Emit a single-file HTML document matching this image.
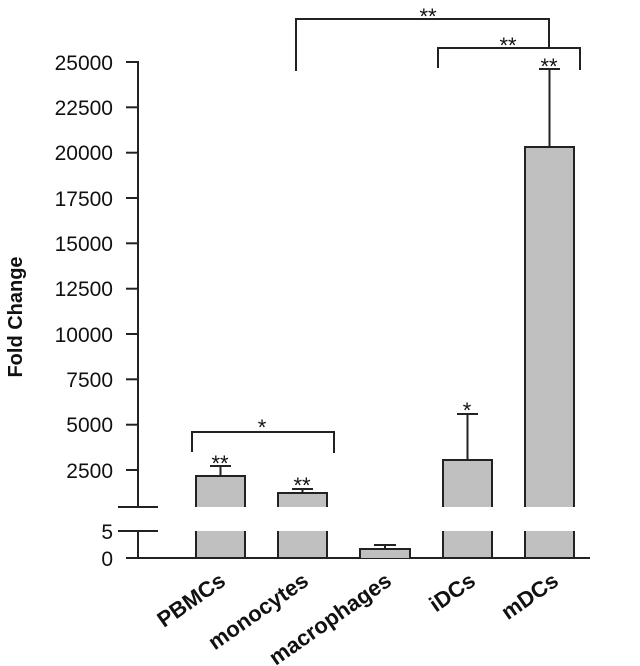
<!DOCTYPE html>
<html><head><meta charset="utf-8"><style>body{margin:0;background:#fff}svg{display:block}</style></head>
<body>
<svg width="640" height="666" xmlns="http://www.w3.org/2000/svg" font-family="'Liberation Sans', Arial, sans-serif">
<g stroke="#222" stroke-width="2" fill="none">
<line x1="138" y1="61" x2="138" y2="507"/>
<line x1="138" y1="531" x2="138" y2="558"/>
<line x1="118" y1="507" x2="158" y2="507"/>
<line x1="118" y1="531" x2="158" y2="531"/>
<line x1="126" y1="558" x2="590" y2="558"/>
<g>
<line x1="126" y1="62" x2="138" y2="62"/>
<line x1="126" y1="107.3" x2="138" y2="107.3"/>
<line x1="126" y1="152.7" x2="138" y2="152.7"/>
<line x1="126" y1="198" x2="138" y2="198"/>
<line x1="126" y1="243.3" x2="138" y2="243.3"/>
<line x1="126" y1="288.7" x2="138" y2="288.7"/>
<line x1="126" y1="334" x2="138" y2="334"/>
<line x1="126" y1="379.3" x2="138" y2="379.3"/>
<line x1="126" y1="424.7" x2="138" y2="424.7"/>
<line x1="126" y1="470" x2="138" y2="470"/>
</g>
</g>
<g font-size="21" fill="#111" text-anchor="end">
<text x="113" y="70">25000</text>
<text x="113" y="115">22500</text>
<text x="113" y="160">20000</text>
<text x="113" y="206">17500</text>
<text x="113" y="251">15000</text>
<text x="113" y="296">12500</text>
<text x="113" y="342">10000</text>
<text x="113" y="387">7500</text>
<text x="113" y="432">5000</text>
<text x="113" y="478">2500</text>
<text x="113" y="539">5</text>
<text x="113" y="566">0</text>
</g>
<text transform="translate(22,317) rotate(-90)" text-anchor="middle" font-size="20" font-weight="bold" fill="#111">Fold Change</text>
<g fill="#c0c0c0" stroke="#222" stroke-width="2">
<path d="M196,507 V476 H245 V507 M196,558 V531 M245,531 V558"/>
<path d="M278,507 V493 H327 V507 M278,558 V531 M327,531 V558"/>
<path d="M360,558 V549 H410 V558"/>
<path d="M443,507 V460 H492 V507 M443,558 V531 M492,531 V558"/>
<path d="M525,507 V147 H574 V507 M525,558 V531 M574,531 V558"/>
</g>
<g fill="#c0c0c0">
<rect x="197" y="531" width="47" height="26"/>
<rect x="279" y="531" width="47" height="26"/>
<rect x="444" y="531" width="47" height="26"/>
<rect x="526" y="531" width="47" height="26"/>
</g>
<g stroke="#222" stroke-width="2" fill="none">
<path d="M220.5,476 V466 M210,466 H231"/>
<path d="M302.5,493 V489 M292,489 H313"/>
<path d="M385,549 V545 M374,545 H396"/>
<path d="M467.5,460 V414 M457,414 H478"/>
<path d="M549.5,147 V69 M539,69 H560"/>
<path d="M192,452 V432 H334 V453"/>
<path d="M296,71 V19 H549 V48"/>
<path d="M438,68 V48 H580 V70"/>
</g>
<g font-size="22" fill="#111" text-anchor="middle">
<text x="220" y="471">**</text>
<text x="302" y="493">**</text>
<text x="467" y="418">*</text>
<text x="549" y="74">**</text>
<text x="262" y="435">*</text>
<text x="428" y="24">**</text>
<text x="508" y="53">**</text>
</g>
<g font-size="22" font-weight="bold" fill="#111" text-anchor="end">
<text transform="translate(227,584) rotate(-35)">PBMCs</text>
<text transform="translate(310,584) rotate(-35)">monocytes</text>
<text transform="translate(393,584) rotate(-35)">macrophages</text>
<text transform="translate(477,584) rotate(-35)">iDCs</text>
<text transform="translate(560,584) rotate(-35)">mDCs</text>
</g>
</svg>
</body></html>
